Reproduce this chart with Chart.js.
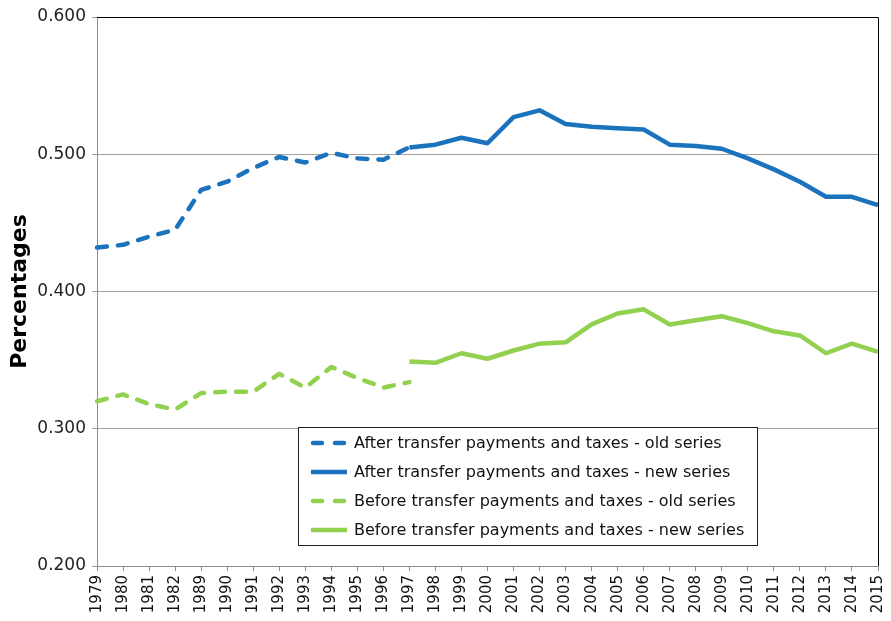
<!DOCTYPE html>
<html>
<head>
<meta charset="utf-8">
<script src="https://cdn.jsdelivr.net/npm/chart.js@4"></script>
<style>
  body { margin: 0; background: #fff; }
</style>
</head>
<body>
<canvas id="chart" width="891" height="621"></canvas>
<script>
'use strict';

const years = ['1979', '1980', '1981', '1982', '1989', '1990', '1991', '1992', '1993',
    '1994', '1995', '1996', '1997', '1998', '1999', '2000', '2001', '2002', '2003',
    '2004', '2005', '2006', '2007', '2008', '2009', '2010', '2011', '2012', '2013',
    '2014', '2015'];

// 1979 - 1997
const afterOld = [0.432, 0.434, 0.440, 0.445, 0.474, 0.480, 0.490, 0.498, 0.494,
    0.501, 0.497, 0.496, 0.505];
const beforeOld = [0.320, 0.325, 0.318, 0.314, 0.326, 0.327, 0.327, 0.340, 0.330,
    0.345, 0.337, 0.330, 0.334];

// 1997 - 2015
const afterNew = [0.505, 0.507, 0.512, 0.508, 0.527, 0.532, 0.522, 0.520, 0.519, 0.518,
    0.507, 0.506, 0.504, 0.497, 0.489, 0.480, 0.469, 0.469, 0.463];
const beforeNew = [0.349, 0.348, 0.355, 0.351, 0.357, 0.362, 0.363, 0.376, 0.384, 0.387,
    0.376, 0.379, 0.382, 0.377, 0.371, 0.368, 0.355, 0.362, 0.356];

const seriesLabels = [
    'After transfer payments and taxes - old series',
    'After transfer payments and taxes - new series',
    'Before transfer payments and taxes - old series',
    'Before transfer payments and taxes - new series'
];

const BLUE = '#1b72bd';
const GREEN = '#92d050';
const FONT = 'DejaVu Sans';

// old series run from the start, new series start at 1997
const newStart = years.indexOf('1997');
const oldData = vals => years.map((y, i) => i < vals.length ? vals[i] : null);
const newData = vals => years.map((y, i) => i >= newStart ? vals[i - newStart] : null);

function lineSet(label, data, color, dashed) {
    return {
        label, data,
        borderColor: color,
        backgroundColor: color,
        borderWidth: 4.5,
        borderDash: dashed ? [10, 11] : [],
        borderCapStyle: dashed ? 'round' : 'butt',
        borderJoinStyle: 'round',
        pointRadius: 0,
        tension: 0,
        fill: false,
        spanGaps: false
    };
}

// frame on top and right of plot area
const framePlugin = {
    id: 'frame',
    afterDatasetsDraw(chart) {
        const {ctx, chartArea: a} = chart;
        ctx.save();
        ctx.strokeStyle = '#000';
        ctx.lineWidth = 1;
        ctx.beginPath();
        ctx.moveTo(a.left, a.top + 0.5);
        ctx.lineTo(a.right + 0.5, a.top + 0.5);
        ctx.lineTo(a.right + 0.5, a.bottom);
        ctx.stroke();
        ctx.restore();
    }
};

// boxed legend inside the plot
const boxLegend = {
    id: 'boxLegend',
    afterDraw(chart) {
        const ctx = chart.ctx;
        const x = 298.5, y = 427.5, w = 459, h = 118;
        ctx.save();
        ctx.fillStyle = '#fff';
        ctx.fillRect(x, y, w, h);
        ctx.strokeStyle = '#222';
        ctx.lineWidth = 1;
        ctx.strokeRect(x, y, w, h);
        ctx.font = '16px "' + FONT + '"';
        ctx.textBaseline = 'middle';
        chart.data.datasets.forEach((ds, i) => {
            const cy = y + 15.5 + i * 29;
            const dashed = ds.borderDash.length > 0;
            ctx.strokeStyle = ds.borderColor;
            ctx.lineWidth = 4.5;
            ctx.lineCap = dashed ? 'round' : 'butt';
            ctx.setLineDash(dashed ? [9, 13] : []);
            ctx.beginPath();
            if (dashed) {
                ctx.moveTo(313, cy);
                ctx.lineTo(345, cy);
            } else {
                ctx.moveTo(311, cy);
                ctx.lineTo(347, cy);
            }
            ctx.stroke();
            ctx.setLineDash([]);
            ctx.fillStyle = '#111';
            ctx.fillText(ds.label, 354, cy + 1);
        });
        ctx.restore();
    }
};

new Chart(document.getElementById('chart'), {
    type: 'line',
    data: {
        labels: years,
        datasets: [
            lineSet(seriesLabels[0], oldData(afterOld), BLUE, true),
            lineSet(seriesLabels[1], newData(afterNew), BLUE, false),
            lineSet(seriesLabels[2], oldData(beforeOld), GREEN, true),
            lineSet(seriesLabels[3], newData(beforeNew), GREEN, false)
        ]
    },
    options: {
        responsive: false,
        animation: false,
        layout: {padding: {top: 17, right: 13, left: 0, bottom: 0}},
        plugins: {
            legend: {display: false},
            tooltip: {enabled: false}
        },
        scales: {
            x: {
                offset: false,
                afterFit(scale) {
                    scale.height = 55;
                    scale.paddingLeft = 0;
                    scale.paddingRight = 0;
                },
                grid: {
                    drawOnChartArea: false,
                    drawTicks: true,
                    tickLength: 5,
                    color: '#8c8c8c'
                },
                border: {color: '#8c8c8c'},
                ticks: {
                    autoSkip: false,
                    maxRotation: 90,
                    minRotation: 90,
                    padding: 4,
                    color: '#111',
                    font: {family: FONT, size: 15}
                }
            },
            y: {
                min: 0.2,
                max: 0.6,
                afterFit(scale) { scale.width = 97; },
                grid: {
                    color: '#a0a0a0',
                    tickLength: 5
                },
                border: {color: '#8c8c8c'},
                ticks: {
                    stepSize: 0.1,
                    padding: 6,
                    color: '#222',
                    font: {family: FONT, size: 17},
                    callback: v => v.toFixed(3)
                },
                title: {
                    display: true,
                    text: 'Percentages',
                    color: '#000',
                    padding: {top: 7, bottom: 0},
                    font: {family: FONT, size: 22, weight: 'bold'}
                }
            }
        }
    },
    plugins: [framePlugin, boxLegend]
});
</script>
</body>
</html>
